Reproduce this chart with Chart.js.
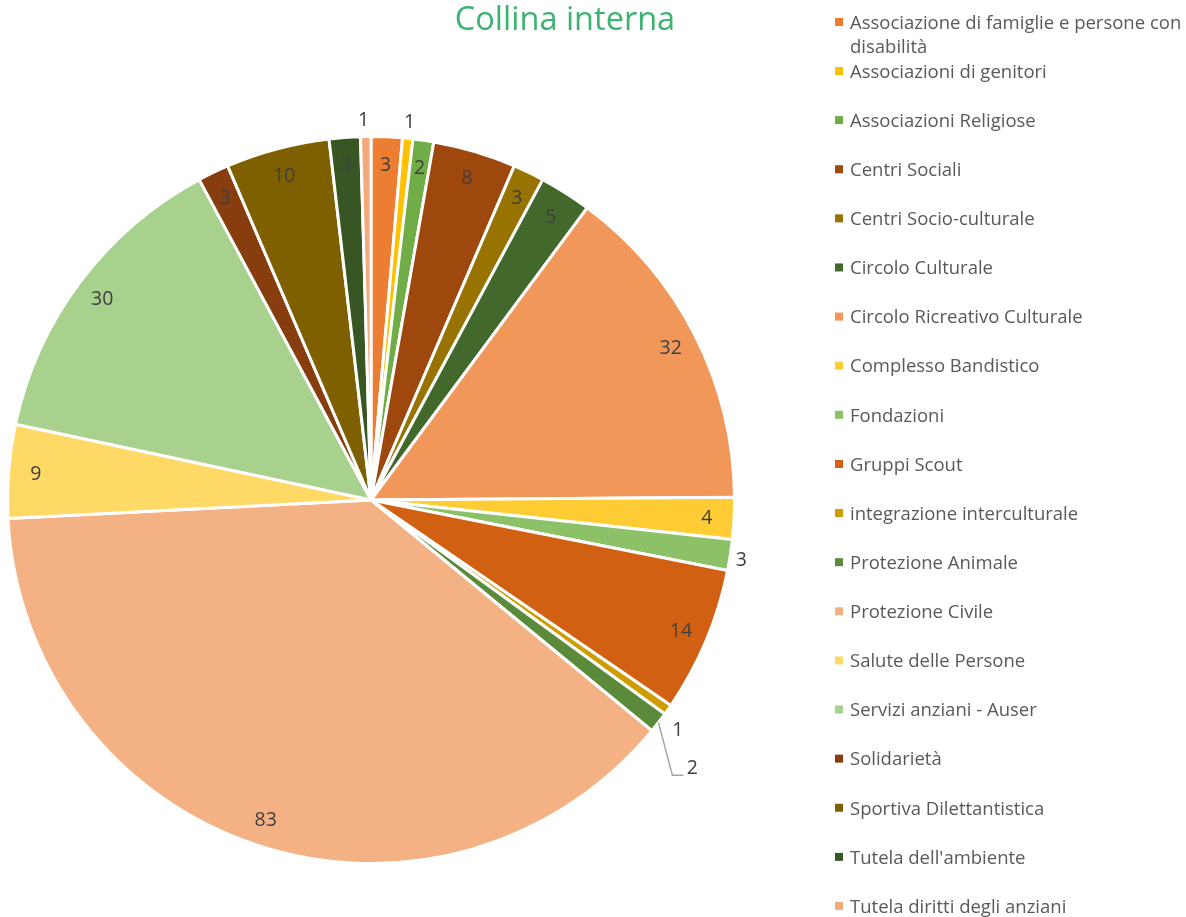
<!DOCTYPE html>
<html>
<head>
<meta charset="utf-8">
<script src="https://cdn.jsdelivr.net/npm/chart.js@4"></script>
<style>
  html, body { margin: 0; padding: 0; background: #fff; }
  #wrap { width: 1186px; height: 917px; position: relative; }
</style>
</head>
<body>
<div id="wrap"><canvas id="pieChart" width="1186" height="917"></canvas></div>
<script>
// chart data
const chartTitle = "Collina interna";
const categories = [
    "Associazione di famiglie e persone con disabilità",
    "Associazioni di genitori",
    "Associazioni Religiose",
    "Centri Sociali",
    "Centri Socio-culturale",
    "Circolo Culturale",
    "Circolo Ricreativo Culturale",
    "Complesso Bandistico",
    "Fondazioni",
    "Gruppi Scout",
    "integrazione interculturale",
    "Protezione Animale",
    "Protezione Civile",
    "Salute delle Persone",
    "Servizi anziani - Auser",
    "Solidarietà",
    "Sportiva Dilettantistica",
    "Tutela dell'ambiente",
    "Tutela diritti degli anziani"
];
const counts = [3, 1, 2, 8, 3, 5, 32, 4, 3, 14, 1, 2, 83, 9, 30, 3, 10, 3, 1];
const sliceColors = [
    "#ED7D31", "#FFC000", "#70AD47",
    "#9E480E", "#997300", "#43682B",
    "#F1975A", "#FFCD33", "#8CC168",
    "#D26012", "#CF9C00", "#5A8A3A",
    "#F4B183", "#FFD966", "#A9D18E",
    "#873D0E", "#7F6000", "#375623",
    "#F3A97A"
];

const FONT = "'Open Sans', Lato, sans-serif";

// labels Excel put outside the pie (index -> radius, angle nudge in degrees, leader line)
const outsideLabels = {
    1: { r: 381, nudge: 0 },
    8: { r: 375, nudge: 0.4 },
    10: { r: 383, nudge: 1.5 },
    11: { r: 418, nudge: 2, leader: true },
    18: { r: 381, nudge: -0.3 }
};

const valueLabels = {
    id: "valueLabels",
    afterDatasetsDraw(chart) {
        const ctx = chart.ctx;
        const meta = chart.getDatasetMeta(0);
        ctx.save();
        ctx.font = "19.5px " + FONT;
        ctx.fillStyle = "#404040";
        ctx.textAlign = "center";
        ctx.textBaseline = "middle";
        meta.data.forEach((arc, i) => {
            const p = arc.getProps(["x", "y", "startAngle", "endAngle", "outerRadius"], true);
            let mid = (p.startAngle + p.endAngle) / 2;
            let r = p.outerRadius * 0.925;
            const out = outsideLabels[i];
            if (out) {
                r = out.r;
                mid += out.nudge * Math.PI / 180;
            }
            const lx = p.x + Math.cos(mid) * r;
            const ly = p.y + Math.sin(mid) * r;
            if (out && out.leader) {
                const a = (p.startAngle + p.endAngle) / 2;
                ctx.strokeStyle = "#A6A6A6";
                ctx.lineWidth = 1.5;
                ctx.beginPath();
                ctx.moveTo(p.x + Math.cos(a) * p.outerRadius, p.y + Math.sin(a) * p.outerRadius);
                ctx.lineTo(lx - 20, ly + 8);
                ctx.lineTo(lx - 9, ly + 8);
                ctx.stroke();
            }
            ctx.fillText(String(counts[i]), lx, ly + 1);
        });
        ctx.restore();
    }
};

// title + legend drawn by hand to follow the Excel layout
const sideLegend = {
    id: "sideLegend",
    afterDraw(chart) {
        const ctx = chart.ctx;
        ctx.save();
        ctx.font = "32.5px " + FONT;
        ctx.fillStyle = "#3CB371";
        ctx.textAlign = "center";
        ctx.textBaseline = "middle";
        ctx.fillText(chartTitle, 565, 21);

        ctx.font = "18.5px " + FONT;
        ctx.textAlign = "left";
        const boxX = 835, textX = 850, maxW = 1186 - textX;
        const lineH = 24.5;
        const step = (906 - 71) / (categories.length - 2);
        categories.forEach((label, i) => {
            const y = i === 0 ? 22 : 71 + (i - 1) * step;
            // wrap long labels
            const words = label.split(" ");
            const lines = [];
            let cur = "";
            words.forEach(w => {
                const test = cur ? cur + " " + w : w;
                if (ctx.measureText(test).width > maxW && cur) {
                    lines.push(cur);
                    cur = w;
                } else {
                    cur = test;
                }
            });
            lines.push(cur);
            ctx.fillStyle = sliceColors[i];
            ctx.fillRect(boxX, y - 4, 8, 8);
            ctx.fillStyle = "#595959";
            lines.forEach((ln, k) => ctx.fillText(ln, textX, y + 1.5 + k * lineH));
        });
        ctx.restore();
    }
};

new Chart(document.getElementById("pieChart"), {
    type: "pie",
    data: {
        labels: categories,
        datasets: [{
            data: counts,
            backgroundColor: sliceColors,
            borderColor: "#ffffff",
            borderWidth: 3,
            hoverOffset: 0
        }]
    },
    options: {
        responsive: false,
        animation: false,
        layout: {
            padding: { left: 6, right: 450, top: 135, bottom: 52 }
        },
        plugins: {
            legend: { display: false },
            title: { display: false },
            tooltip: { enabled: false }
        }
    },
    plugins: [valueLabels, sideLegend]
});
</script>
</body>
</html>
